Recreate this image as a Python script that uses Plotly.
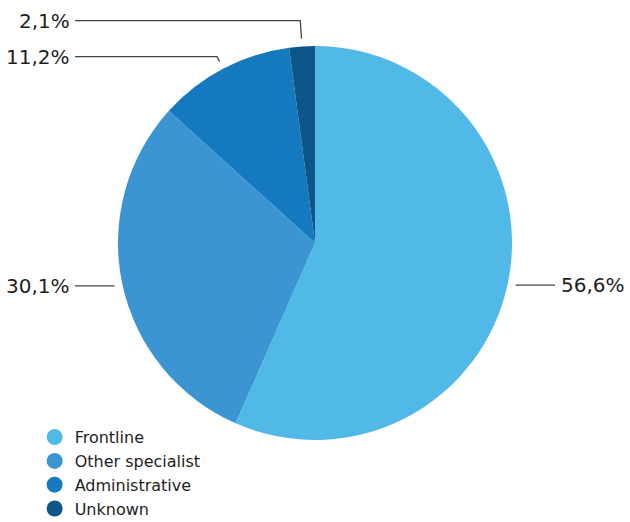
import math
import plotly.graph_objects as go

categories = ["Frontline", "Other specialist", "Administrative", "Unknown"]
values = [56.6, 30.1, 11.2, 2.1]
value_labels = ["56,6%", "30,1%", "11,2%", "2,1%"]
colors = ["#50B9E8", "#3B95D3", "#1479BE", "#0C5689"]

W, H = 630, 522
CX, CY, R = 315, 243, 197
FONT = "DejaVu Sans"
TEXT_COLOR = "#1e1e1e"
LINE_COLOR = "#444444"

fig = go.Figure()

fig.add_trace(go.Pie(
    labels=categories, values=values, sort=False, direction="clockwise", rotation=0,
    marker=dict(colors=colors, line=dict(width=0)),
    textinfo="none", hoverinfo="label+percent", showlegend=False,
    domain=dict(x=[(CX - R) / W, (CX + R) / W], y=[(H - CY - R) / H, (H - CY + R) / H]),
))

# label layout computed from the data
total = sum(values)
items = []
acc = 0.0
for cat, v, lab in zip(categories, values, value_labels):
    mid = (acc + v / 2) / total * 2 * math.pi
    acc += v
    sx, sy = math.sin(mid), -math.cos(mid)
    side = "right" if sx >= 0 else "left"
    items.append(dict(lab=lab, sx=sx, sy=sy, side=side,
                      ly=CY + sy * (R + 20)))

GAP = 36
for side in ("left", "right"):
    grp = sorted([it for it in items if it["side"] == side], key=lambda d: d["ly"])
    for _ in range(50):
        moved = False
        for a, b in zip(grp, grp[1:]):
            d = b["ly"] - a["ly"]
            if d < GAP:
                s = (GAP - d) / 2
                a["ly"] -= s
                b["ly"] += s
                moved = True
        if not moved:
            break

for it in items:
    r1 = R + 8
    ax, ay = CX + it["sx"] * r1, CY + it["sy"] * r1
    if abs(it["sy"]) > 0.5:
        r2 = max((it["ly"] - CY) / it["sy"], r1)
        bx, by = CX + it["sx"] * r2, it["ly"]
    else:
        it["ly"] = ay
        bx, by = ax, ay
    if it["side"] == "right":
        cx_end, tx, anchor = 555, 559, "left"
    else:
        cx_end, tx, anchor = 75, 72, "right"
    fig.add_trace(go.Scatter(x=[ax, bx, cx_end], y=[ay, by, it["ly"]], mode="lines",
                             line=dict(color=LINE_COLOR, width=1.3), hoverinfo="skip",
                             showlegend=False))
    fig.add_annotation(x=tx, y=it["ly"], xref="x", yref="y", text=it["lab"],
                       showarrow=False, xanchor=anchor, yanchor="middle",
                       font=dict(family=FONT, size=20, color=TEXT_COLOR))

for cat, col in zip(categories, colors):
    fig.add_trace(go.Scatter(x=[None], y=[None], mode="markers", name=cat,
                             marker=dict(color=col, size=16, symbol="circle")))

fig.update_layout(
    width=W, height=H, margin=dict(l=0, r=0, t=0, b=0, autoexpand=False),
    paper_bgcolor="white", plot_bgcolor="rgba(0,0,0,0)",
    xaxis=dict(range=[0, W], visible=False, fixedrange=True),
    yaxis=dict(range=[H, 0], visible=False, fixedrange=True),
    legend=dict(x=0.055, y=-0.008, xanchor="left", yanchor="bottom",
                font=dict(family=FONT, size=16, color=TEXT_COLOR),
                tracegroupgap=0),
    font=dict(family=FONT),
)

fig.write_html("out.html", config={"displayModeBar": False},
               post_script="document.body.style.margin='0';")
